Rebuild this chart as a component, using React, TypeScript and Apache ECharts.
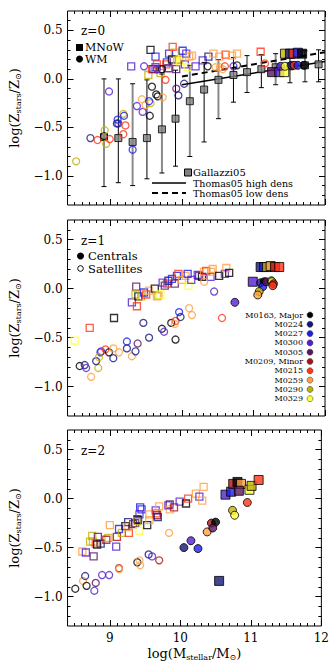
import React, { useEffect, useRef } from "react";
import * as echarts from "echarts";

const FONT = '"DejaVu Serif", serif';

const haloNames = ["M0163, Major", "M0224", "M0227", "M0300", "M0305", "M0209, Minor", "M0215", "M0259", "M0290", "M0329"];
const haloColors = ["#000000", "#16167a", "#1e1ee8", "#5420d2", "#5c1660", "#b01010", "#ff3418", "#ffa040", "#c4b000", "#ffff3a"];

// Gallazzi et al. 2005
const gallMass = [8.91, 9.11, 9.31, 9.51, 9.72, 9.91, 10.11, 10.31, 10.51, 10.72, 10.91, 11.11, 11.31, 11.51, 11.72, 11.91];
const gallMed = [-0.6, -0.61, -0.65, -0.61, -0.52, -0.41, -0.23, -0.11, -0.01, 0.04, 0.07, 0.1, 0.12, 0.13, 0.14, 0.15];
const gallLo = [-1.11, -1.07, -1.1, -1.03, -0.97, -0.9, -0.8, -0.65, -0.41, -0.24, -0.14, -0.09, -0.06, -0.04, -0.03, -0.03];
const gallHi = [0.0, 0.0, -0.05, -0.01, 0.05, 0.09, 0.14, 0.17, 0.2, 0.22, 0.24, 0.25, 0.26, 0.28, 0.29, 0.3];

// Thomas et al. 2005
const thomasHigh = [[10.0, -0.06], [12.0, 0.18]];
const thomasLow = [[10.0, 0.025], [12.0, 0.275]];

// [logM, logZ, halo index]
const z0OpenSq = [
  [9.29, 0.13, 3], [9.56, 0.3, 0], [9.53, 0.04, 8], [9.58, 0.1, 6], [9.63, 0.12, 3], [9.6, 0.1, 4], [9.63, 0.23, 2],
  [9.65, 0.15, 6], [9.7, 0.06, 8], [9.7, 0.1, 4], [9.79, 0.17, 2], [9.78, 0.15, 6], [9.81, 0.11, 4], [9.82, 0.26, 2],
  [9.87, 0.33, 6], [9.9, 0.27, 8], [9.86, 0.2, 0], [9.92, 0.1, 4], [9.93, 0.19, 7], [9.96, 0.2, 8], [9.97, 0.18, 9],
  [10.0, 0.22, 9], [10.01, 0.29, 2], [10.04, 0.15, 3], [10.06, 0.26, 3], [10.08, 0.12, 9], [10.14, 0.24, 7],
  [10.1, 0.23, 7], [10.19, 0.13, 3], [10.29, 0.19, 3], [10.37, 0.23, 1], [10.44, 0.26, 7], [10.52, 0.23, 7],
  [10.61, 0.25, 6], [10.7, 0.24, 7], [10.77, 0.26, 7], [11.1, 0.28, 6],
];
const z0OpenCirc = [
  [8.52, -0.85, 8], [8.72, -0.61, 1], [8.82, -0.63, 6], [8.91, -0.59, 0], [8.92, -0.53, 8], [8.94, -0.67, 8],
  [8.99, -0.62, 6], [8.98, -0.13, 3], [9.1, -0.42, 2], [9.11, -0.46, 2], [9.09, -0.46, 1], [9.18, -0.36, 8],
  [9.19, -0.38, 2], [9.21, -0.48, 6], [9.18, -0.57, 6], [9.31, -0.73, 2], [9.37, -0.28, 3], [9.45, -0.34, 3],
  [9.44, -0.21, 7], [9.49, -0.27, 7], [9.56, -0.25, 8], [9.54, -0.23, 2], [9.55, -0.38, 0], [9.47, 0.13, 3],
  [9.58, -0.08, 0], [9.64, -0.16, 0], [9.66, -0.18, 0], [9.73, -0.19, 7], [9.77, -0.01, 6], [9.72, 0.1, 0],
  [9.65, 0.1, 3], [9.92, -0.1, 4], [9.95, -0.17, 1], [10.03, -0.05, 1], [10.36, 0.13, 0], [10.47, 0.12, 7],
  [10.53, 0.12, 7], [10.57, 0.1, 7], [10.6, 0.13, 6], [10.72, 0.13, 3], [10.77, 0.14, 0], [11.16, 0.16, 6],
];
const z0FillSq = [
  [11.26, 0.07, 4], [11.36, 0.07, 3], [11.43, 0.07, 9], [11.44, 0.26, 8], [11.51, 0.26, 1], [11.56, 0.26, 6],
  [11.62, 0.27, 2], [11.68, 0.26, 0],
];
const z0FillCirc = [
  [11.38, 0.13, 3], [11.44, 0.13, 9], [11.53, 0.14, 1], [11.57, 0.14, 6], [11.62, 0.14, 2], [11.71, 0.14, 0],
];

const z1OpenSq = [
  [8.5, -0.53, 9], [8.71, -0.4, 6], [9.05, -0.3, 0], [9.3, -0.14, 3], [9.37, -0.18, 6], [9.36, 0.02, 4],
  [9.35, -0.06, 8], [9.39, -0.08, 0], [9.43, -0.08, 8], [9.47, -0.04, 2], [9.5, -0.06, 6], [9.54, -0.02, 7],
  [9.62, 0.0, 0], [9.65, -0.08, 7], [9.67, -0.07, 8], [9.7, -0.06, 9], [9.73, 0.06, 3], [9.76, 0.03, 4],
  [9.79, 0.05, 6], [9.81, 0.08, 1], [9.86, 0.1, 2], [9.9, 0.05, 4], [9.93, 0.13, 2], [9.95, 0.15, 6],
  [10.0, 0.09, 7], [10.05, 0.13, 7], [10.08, 0.15, 2], [10.09, 0.03, 9], [10.13, 0.09, 3], [10.22, 0.14, 3],
  [10.24, 0.13, 4], [10.28, 0.12, 0], [10.31, 0.17, 7], [10.34, 0.18, 6], [10.4, 0.12, 3], [10.43, 0.2, 7],
  [10.41, 0.17, 7], [10.52, 0.13, 0], [10.6, 0.15, 3], [10.62, 0.21, 7], [10.66, 0.16, 0],
];
const z1OpenCirc = [
  [8.57, -0.79, 0], [8.64, -0.78, 1], [8.66, -0.81, 3], [8.73, -0.9, 7], [8.83, -0.81, 8], [8.8, -0.74, 1],
  [8.86, -0.65, 2], [8.87, -0.64, 3], [8.84, -0.7, 8], [8.93, -0.62, 6], [8.98, -0.65, 0], [9.04, -0.71, 1],
  [9.04, -0.61, 7], [9.12, -0.65, 7], [9.23, -0.54, 2], [9.23, -0.61, 1], [9.3, -0.69, 7], [9.35, -0.64, 1],
  [9.38, -0.56, 4], [9.46, -0.35, 1], [9.54, -0.5, 1], [9.72, -0.41, 0], [9.75, -0.44, 3], [9.85, -0.35, 0],
  [9.91, -0.33, 6], [9.9, -0.36, 7], [9.91, -0.52, 0], [9.96, -0.24, 2], [9.98, -0.29, 1], [10.1, -0.2, 7],
  [10.14, -0.27, 7], [10.31, 0.07, 7], [10.45, -0.03, 3], [10.56, -0.3, 6],
];
const z1FillSq = [
  [10.99, 0.07, 3], [11.1, 0.22, 1], [11.15, 0.22, 2], [11.19, 0.22, 8], [11.24, 0.23, 7], [11.3, 0.22, 5],
  [11.36, 0.22, 6],
];
const z1FillCirc = [
  [10.74, -0.14, 3], [11.1, 0.06, 1], [11.15, 0.07, 0], [11.13, 0.02, 2], [11.18, 0.07, 4], [11.25, 0.08, 8],
  [11.26, 0.07, 9], [11.28, 0.05, 5], [11.27, 0.03, 6], [11.08, -0.03, 8], [11.06, -0.065, 7],
];

const z2OpenSq = [
  [8.61, -0.54, 7], [8.66, -0.55, 3], [8.75, -0.38, 8], [8.72, -0.44, 8], [8.76, -0.44, 8], [8.77, -0.59, 4],
  [8.83, -0.39, 4], [8.8, -0.46, 6], [8.82, -0.47, 0], [8.87, -0.46, 1], [8.98, -0.4, 8], [8.95, -0.42, 5],
  [9.0, -0.27, 7], [9.09, -0.49, 3], [9.1, -0.39, 5], [9.13, -0.31, 2], [9.17, -0.35, 8], [9.22, -0.28, 0],
  [9.26, -0.24, 1], [9.27, -0.35, 6], [9.25, -0.29, 7], [9.33, -0.26, 4], [9.36, -0.25, 4], [9.39, -0.21, 1],
  [9.4, -0.22, 0], [9.39, -0.23, 8], [9.42, -0.33, 9], [9.43, -0.09, 2], [9.45, -0.11, 2], [9.42, -0.16, 3],
  [9.53, -0.27, 0], [9.56, -0.22, 7], [9.56, -0.16, 7], [9.65, -0.12, 3], [9.66, -0.15, 6], [9.67, -0.17, 5],
  [9.68, -0.19, 1], [9.7, -0.08, 7], [9.85, -0.06, 4], [9.85, -0.11, 7], [9.83, -0.07, 3], [9.91, -0.09, 5],
  [9.99, -0.03, 3], [10.08, -0.05, 0], [10.11, 0.0, 6], [10.22, 0.05, 7], [10.27, 0.02, 3], [10.31, -0.02, 7],
  [10.33, 0.12, 7],
];
const z2OpenCirc = [
  [8.51, -0.92, 0], [8.62, -0.84, 7], [8.65, -0.79, 1], [8.67, -0.89, 0], [8.8, -0.86, 4], [8.78, -0.94, 3],
  [8.89, -0.78, 3], [8.99, -0.78, 3], [9.13, -0.71, 5], [9.13, -0.72, 7], [9.39, -0.65, 0], [9.42, -0.63, 7],
  [9.43, -0.68, 7], [9.55, -0.57, 1], [9.6, -0.59, 3], [9.7, -0.63, 5], [9.84, -0.35, 7],
];
const z2FillSq = [
  [10.55, -0.84, 1], [10.64, 0.04, 3], [10.72, 0.07, 2], [10.75, 0.15, 5], [10.81, 0.17, 0], [10.86, 0.15, 7],
  [10.83, 0.08, 4], [10.98, 0.09, 9], [11.01, 0.13, 8], [11.11, 0.19, 6],
];
const z2FillCirc = [
  [10.05, -0.5, 1], [10.15, -0.43, 3], [10.25, -0.51, 2], [10.38, -0.34, 7], [10.44, -0.25, 5], [10.5, -0.24, 0],
  [10.46, -0.3, 4], [10.74, -0.12, 8], [10.77, -0.17, 9], [10.95, -0.04, 6],
];

const xMajor = [9, 10, 11, 12];
const yMajor = [-1.0, -0.5, 0.0, 0.5];
const X_MIN = 8.4, X_MAX = 12, Y_MIN = -1.3, Y_MAX = 0.7;

const xMinor: number[] = [];
for (let k = 85; k <= 119; k++) xMinor.push(k / 10);
const yMinor: number[] = [];
for (let k = -12; k <= 6; k++) yMinor.push(k / 10);

const grids = [
  { left: 62, top: 11, width: 263, height: 194 },
  { left: 62, top: 220, width: 263, height: 196 },
  { left: 62, top: 430, width: 263, height: 196 },
];

const subRich = {
  m: { fontFamily: FONT, fontSize: 13, color: "#000", lineHeight: 16 },
  s: { fontFamily: FONT, fontSize: 8, color: "#000", verticalAlign: "bottom", lineHeight: 8 },
};

function makeXAxes(g: number, last: boolean) {
  const base = {
    type: "value", gridIndex: g, min: X_MIN, max: X_MAX,
    axisLine: { show: false, onZero: false }, splitLine: { show: false },
    axisLabel: { show: false }, axisTick: { show: false },
  };
  const axes: any[] = [];
  for (const pos of ["bottom", "top"]) {
    axes.push({
      ...base, position: pos,
      axisTick: { show: true, inside: true, length: 3, customValues: xMinor, lineStyle: { color: "#000", width: 1 } },
      axisLabel: pos === "bottom" && last
        ? { show: true, customValues: xMajor, fontFamily: FONT, fontSize: 12, color: "#000", margin: 6, formatter: (v: number) => String(v) }
        : { show: false },
      name: pos === "bottom" && last ? "{m|log(M}{s|stellar}{m|/M}{s|⊙}{m|)}" : "",
      nameLocation: "middle", nameGap: 19,
      nameTextStyle: { rich: subRich },
    });
    axes.push({
      ...base, position: pos,
      axisTick: { show: true, inside: true, length: 6, customValues: xMajor, lineStyle: { color: "#000", width: 1 } },
    });
  }
  return axes;
}

function makeYAxes(g: number) {
  const base = {
    type: "value", gridIndex: g, min: Y_MIN, max: Y_MAX,
    axisLine: { show: false, onZero: false }, splitLine: { show: false },
    axisLabel: { show: false }, axisTick: { show: false },
  };
  const axes: any[] = [];
  for (const pos of ["left", "right"]) {
    axes.push({
      ...base, position: pos,
      axisTick: { show: true, inside: true, length: 3, customValues: yMinor, lineStyle: { color: "#000", width: 1 } },
      axisLabel: pos === "left"
        ? { show: true, customValues: yMajor, fontFamily: FONT, fontSize: 12, color: "#000", margin: 5,
            formatter: (v: number) => v.toFixed(1).replace("-", "\u2212") }
        : { show: false },
      name: pos === "left" ? "{m|log(Z}{s|stars}{m|/Z}{s|⊙}{m|)}" : "",
      nameLocation: "middle", nameGap: 36, nameRotate: 90,
      nameTextStyle: { rich: subRich },
    });
    axes.push({
      ...base, position: pos,
      axisTick: { show: true, inside: true, length: 6, customValues: yMajor, lineStyle: { color: "#000", width: 1 } },
    });
  }
  return axes;
}

function scatter(g: number, pts: number[][], symbol: string, filled: boolean, size: number) {
  return {
    type: "scatter", xAxisIndex: g * 4, yAxisIndex: g * 4, symbol, symbolSize: size,
    z: filled ? 6 : 4, silent: true,
    data: pts.map((p) => ({
      value: [p[0], p[1]],
      itemStyle: filled
        ? { color: haloColors[p[2]], borderColor: "#000", borderWidth: 1 }
        : { color: "rgba(0,0,0,0)", borderColor: haloColors[p[2]], borderWidth: 1.3 },
    })),
  };
}

function txt(x: number, y: number, text: string, size: number, align = "left", lh = 9) {
  return {
    type: "text", x, y, silent: true,
    style: {
      text, fontFamily: FONT, fontSize: size, fill: "#000", lineHeight: lh,
      align, textAlign: align, verticalAlign: "middle", textVerticalAlign: "middle",
    },
  };
}

export default function App() {
  const ref = useRef<HTMLDivElement>(null);
  useEffect(() => {
    if (!ref.current) return;
    const chart = echarts.init(ref.current, null, { renderer: "svg" });

    const xAxis: any[] = [];
    const yAxis: any[] = [];
    grids.forEach((_, g) => {
      xAxis.push(...makeXAxes(g, g === 2));
      yAxis.push(...makeYAxes(g));
    });

    const gallData = gallMass.map((m, i) => [m, gallMed[i], gallLo[i], gallHi[i]]);

    const graphic: any[] = [
      txt(81, 31, "z=0", 12, "left", 12),
      { type: "rect", shape: { x: 76, y: 44, width: 7, height: 7 }, style: { fill: "#000" } },
      txt(85, 47.5, "MNoW", 11, "left", 10),
      { type: "circle", shape: { cx: 79.5, cy: 59, r: 3.5 }, style: { fill: "#000" } },
      txt(85, 59, "WM", 11, "left", 10),
      { type: "rect", shape: { x: 184.5, y: 169, width: 7, height: 7 }, style: { fill: "#808080", stroke: "#000", lineWidth: 1 } },
      txt(193, 172.5, "Gallazzi05", 10, "left", 9),
      { type: "line", shape: { x1: 152, y1: 183, x2: 186, y2: 183 }, style: { stroke: "#000", lineWidth: 1.5 } },
      txt(193, 183, "Thomas05 high dens", 9.5, "left", 8),
      { type: "line", shape: { x1: 152, y1: 193, x2: 186, y2: 193 }, style: { stroke: "#000", lineWidth: 2, lineDash: [6, 4] } },
      txt(193, 193, "Thomas05 low dens", 9.5, "left", 8),
      txt(81, 241, "z=1", 12, "left", 12),
      { type: "circle", shape: { cx: 80.5, cy: 256, r: 3.5 }, style: { fill: "#000" } },
      txt(88, 256, "Centrals", 11.5, "left", 10),
      { type: "circle", shape: { cx: 80.5, cy: 268.5, r: 2.8 }, style: { fill: "none", stroke: "#000", lineWidth: 1 } },
      txt(88, 268.5, "Satellites", 11.5, "left", 10),
      txt(81, 451, "z=2", 12, "left", 12),
    ];
    haloNames.forEach((n, i) => {
      const y = 315 + i * 9.3;
      graphic.push(txt(303, y, n, 8, "right", 8));
      graphic.push({ type: "circle", shape: { cx: 310, cy: y, r: 3 }, style: { fill: haloColors[i], stroke: "#333", lineWidth: 0.5 } });
    });

    const series: any[] = [
      {
        type: "custom", xAxisIndex: 0, yAxisIndex: 0, silent: true, z: 2,
        encode: { x: 0, y: [1, 2, 3] },
        data: gallData,
        renderItem: (params: any, api: any) => {
          const x = api.value(0);
          const lo = api.coord([x, api.value(2)]);
          const hi = api.coord([x, api.value(3)]);
          const odd = params.dataIndex % 2 === 1;
          return {
            type: "group",
            children: [
              { type: "line", shape: { x1: lo[0], y1: lo[1], x2: hi[0], y2: hi[1] }, style: { stroke: odd ? "#000" : "#8a8a8a", lineWidth: odd ? 1 : 2 } },
              { type: "line", shape: { x1: lo[0] - 2.5, y1: lo[1], x2: lo[0] + 2.5, y2: lo[1] }, style: { stroke: "#000", lineWidth: 1 } },
              { type: "line", shape: { x1: hi[0] - 2.5, y1: hi[1], x2: hi[0] + 2.5, y2: hi[1] }, style: { stroke: "#000", lineWidth: 1 } },
            ],
          };
        },
      },
      {
        type: "scatter", xAxisIndex: 0, yAxisIndex: 0, silent: true, z: 3, symbol: "rect", symbolSize: 7,
        itemStyle: { color: "#808080", borderColor: "#000", borderWidth: 1 },
        data: gallMass.map((m, i) => [m, gallMed[i]]),
      },
      {
        type: "line", xAxisIndex: 0, yAxisIndex: 0, silent: true, z: 3, symbol: "none",
        lineStyle: { color: "#000", width: 1.5 }, data: thomasHigh,
      },
      {
        type: "line", xAxisIndex: 0, yAxisIndex: 0, silent: true, z: 3, symbol: "none",
        lineStyle: { color: "#000", width: 2, type: [6, 4] }, data: thomasLow,
      },
      scatter(0, z0OpenSq, "rect", false, 7),
      scatter(0, z0OpenCirc, "circle", false, 7),
      scatter(0, z0FillSq, "rect", true, 9),
      scatter(0, z0FillCirc, "circle", true, 8),
      scatter(1, z1OpenSq, "rect", false, 7),
      scatter(1, z1OpenCirc, "circle", false, 7),
      scatter(1, z1FillSq, "rect", true, 9),
      scatter(1, z1FillCirc, "circle", true, 8),
      scatter(2, z2OpenSq, "rect", false, 7),
      scatter(2, z2OpenCirc, "circle", false, 7),
      scatter(2, z2FillSq, "rect", true, 9),
      scatter(2, z2FillCirc, "circle", true, 8),
    ];

    chart.setOption({
      animation: false,
      backgroundColor: "#fff",
      grid: grids.map((g) => ({ ...g, show: true, borderColor: "#000", borderWidth: 1, backgroundColor: "transparent" })),
      xAxis,
      yAxis,
      graphic,
      series,
    });
    return () => chart.dispose();
  }, []);
  return <div ref={ref} style={{ position: "fixed", left: 0, top: 0, width: 332, height: 664 }} />;
}
